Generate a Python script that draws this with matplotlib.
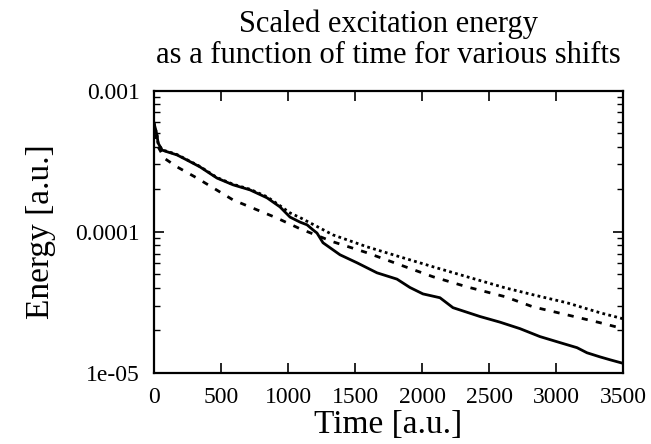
import matplotlib
matplotlib.use("Agg")
import matplotlib.pyplot as plt
from matplotlib.ticker import FixedLocator, FixedFormatter, LogLocator, NullFormatter

# ---- data ----
t_solid = [0, 22, 30, 60, 104, 172, 246, 343, 470, 590, 716, 843, 940, 1015, 1090,
           1142, 1187, 1216, 1261, 1388, 1515, 1664, 1813, 1910, 2007, 2134, 2231,
           2433, 2582, 2731, 2880, 3030, 3157, 3231, 3328, 3403, 3500]
e_solid = [5.89e-4, 4.84e-4, 4.26e-4, 3.79e-4, 3.67e-4, 3.50e-4, 3.22e-4, 2.88e-4,
           2.40e-4, 2.15e-4, 1.98e-4, 1.74e-4, 1.50e-4, 1.27e-4, 1.17e-4, 1.12e-4,
           1.03e-4, 9.8e-5, 8.36e-5, 6.87e-5, 6.03e-5, 5.12e-5, 4.62e-5, 4.03e-5,
           3.63e-5, 3.41e-5, 2.90e-5, 2.51e-5, 2.29e-5, 2.06e-5, 1.81e-5, 1.64e-5,
           1.51e-5, 1.39e-5, 1.30e-5, 1.24e-5, 1.17e-5]

t_dotted = [0, 22, 30, 60, 104, 172, 246, 343, 470, 590, 716, 843, 940, 1015, 1090,
            1336, 1590, 1836, 2082, 2336, 2619, 2828, 3082, 3328, 3500]
e_dotted = [5.89e-4, 4.84e-4, 4.26e-4, 3.79e-4, 3.70e-4, 3.52e-4, 3.24e-4, 2.90e-4,
            2.42e-4, 2.17e-4, 2.00e-4, 1.77e-4, 1.53e-4, 1.36e-4, 1.26e-4, 9.5e-5,
            7.82e-5, 6.64e-5, 5.65e-5, 4.80e-5, 4.01e-5, 3.58e-5, 3.14e-5, 2.67e-5,
            2.42e-5]

t_dashed = [0, 30, 80, 172, 321, 590, 918, 1090, 1336, 1590, 1836, 2082, 2336, 2619,
            2828, 3082, 3328, 3500]
e_dashed = [5.0e-4, 4.0e-4, 3.3e-4, 2.88e-4, 2.40e-4, 1.68e-4, 1.25e-4, 1.05e-4,
            8.49e-5, 7.10e-5, 5.83e-5, 4.80e-5, 4.07e-5, 3.47e-5, 2.94e-5, 2.58e-5,
            2.27e-5, 2.06e-5]

x_ticks = [0, 500, 1000, 1500, 2000, 2500, 3000, 3500]
y_ticks = [1e-5, 1e-4, 1e-3]
y_tick_labels = ["1e-05", "0.0001", "0.001"]

title_text = "Scaled excitation energy\nas a function of time for various shifts"
x_label = "Time [a.u.]"
y_label = "Energy [a.u.]"

# ---- figure ----
plt.rcParams['font.family'] = ['Liberation Serif', 'DejaVu Serif']
fig = plt.figure(figsize=(6.51, 4.44), dpi=100)
ax = fig.add_axes([0.2366, 0.160, 0.7204, 0.636])

ax.plot(t_solid, e_solid, color='black', lw=2.0, solid_joinstyle='round')
ax.plot(t_dotted, e_dotted, color='black', lw=2.0, linestyle=(0, (1, 1.2)))
ax.plot(t_dashed, e_dashed, color='black', lw=2.0, linestyle=(0, (2.2, 3.0)))

ax.set_yscale('log')
ax.set_xlim(0, 3500)
ax.set_ylim(1e-5, 1e-3)

ax.xaxis.set_major_locator(FixedLocator(x_ticks))
ax.set_xticklabels([str(v) for v in x_ticks], fontsize=17)
ax.yaxis.set_major_locator(FixedLocator(y_ticks))
ax.yaxis.set_major_formatter(FixedFormatter(y_tick_labels))
ax.yaxis.set_minor_locator(LogLocator(base=10, subs=range(2, 10)))
ax.yaxis.set_minor_formatter(NullFormatter())

ax.tick_params(which='both', direction='in', top=True, right=True, colors='black')
ax.tick_params(which='major', length=7, width=1.2, labelsize=17)
ax.tick_params(which='minor', length=4, width=1.0)
ax.tick_params(axis='x', which='major', pad=10)
ax.tick_params(axis='y', which='major', pad=10)

for s in ax.spines.values():
    s.set_linewidth(1.6)

ax.set_xlabel(x_label, fontsize=24, labelpad=1)
ax.set_ylabel(y_label, fontsize=24, labelpad=14)
ax.set_title(title_text, fontsize=22, linespacing=1.1, pad=20)

fig.savefig("out.png", dpi=100)
